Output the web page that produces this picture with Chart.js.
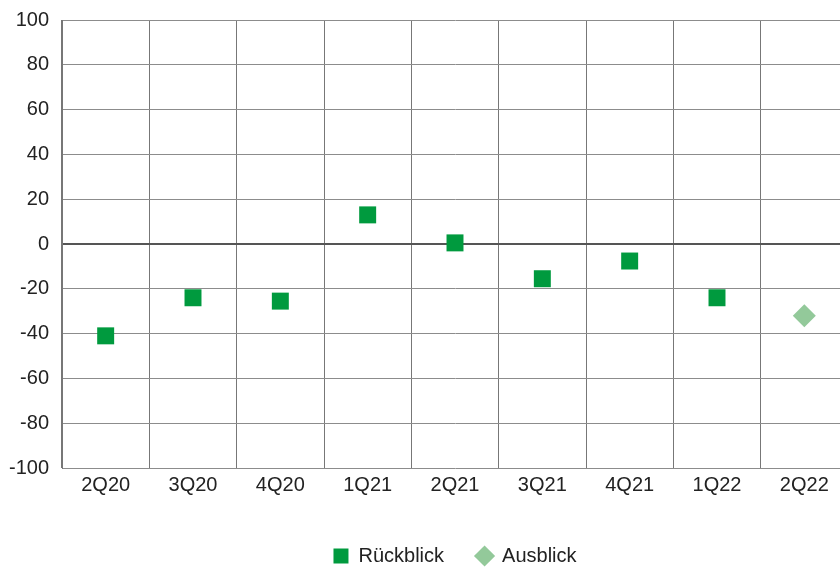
<!DOCTYPE html>
<html>
<head>
<meta charset="utf-8">
<script src="https://cdn.jsdelivr.net/npm/chart.js@4"></script>
<style>
  html, body { margin: 0; padding: 0; background: #fff; overflow: hidden; width: 840px; height: 568px; }
  #chart { position: absolute; left: 0; top: 0; }
</style>
</head>
<body>
<canvas id="chart" width="848" height="568"></canvas>
<script>
// data
const quarters = ['2Q20', '3Q20', '4Q20', '1Q21', '2Q21', '3Q21', '4Q21', '1Q22', '2Q22'];
const rueckblick = [-41, -24, -25.5, 13, 0.5, -15.5, -7.6, -24, null];
const ausblick = [null, null, null, null, null, null, null, null, -32];
const yTicks = [-100, -80, -60, -40, -20, 0, 20, 40, 60, 80, 100];

const FONT = { family: "'Liberation Sans', Arial, sans-serif", size: 20 };

new Chart(document.getElementById('chart'), {
    type: 'line',
    data: {
        labels: quarters,
        datasets: [{
            label: 'Rückblick',
            data: rueckblick,
            showLine: false,
            pointStyle: 'rect',
            pointRadius: 12,
            pointBorderWidth: 0,
            backgroundColor: '#009a3e',
            borderColor: '#009a3e'
        }, {
            label: 'Ausblick',
            data: ausblick,
            showLine: false,
            pointStyle: 'rectRot',
            pointRadius: 11.5,
            pointBorderWidth: 0,
            backgroundColor: '#93c99a',
            borderColor: '#93c99a'
        }]
    },
    options: {
        responsive: false,
        devicePixelRatio: 1,
        animation: false,
        layout: { autoPadding: false, padding: { top: 20, bottom: -8, left: 0, right: 0 } },
        plugins: {
            tooltip: { enabled: false },
            legend: {
                position: 'bottom',
                fullSize: false,
                labels: {
                    usePointStyle: true,
                    boxWidth: 15,
                    boxHeight: 15,
                    padding: 33,
                    color: '#222',
                    font: FONT
                }
            }
        },
        scales: {
            x: {
                offset: true,
                afterFit: s => { s.height = 45; s.paddingLeft = 0; s.paddingRight = 0; },
                grid: { offset: true, color: '#777', lineWidth: 1, drawTicks: false },
                border: { display: false },
                ticks: { color: '#222', font: FONT, padding: 5 }
            },
            y: {
                min: -100,
                max: 100,
                afterFit: s => { s.width = 62; s.paddingTop = 0; s.paddingBottom = 0; },
                afterBuildTicks: s => { s.ticks = yTicks.map(v => ({ value: v })); },
                grid: {
                    drawTicks: false,
                    color: c => c.tick && c.tick.value === 0 ? '#555' : '#8c8c8c',
                    lineWidth: c => c.tick && c.tick.value === 0 ? 2 : 1
                },
                border: { display: true, color: '#777', width: 1 },
                ticks: { color: '#222', font: FONT, padding: 13 }
            }
        }
    }
});
</script>
</body>
</html>
